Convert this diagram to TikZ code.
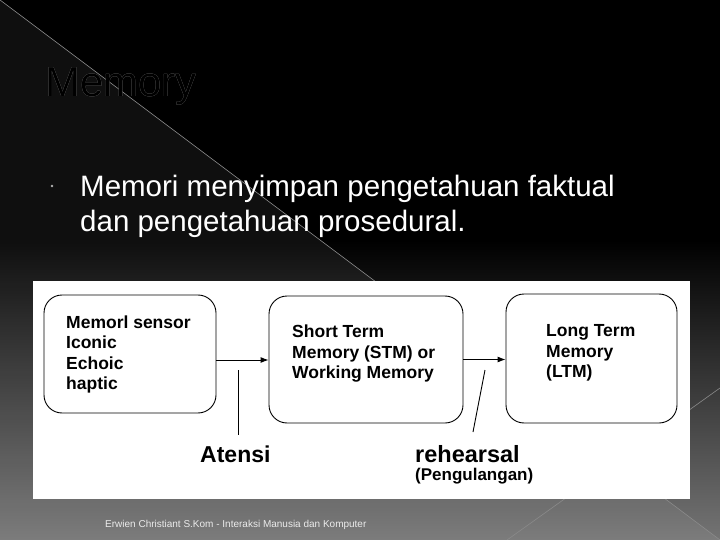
\documentclass[tikz,border=0pt]{standalone}
\usepackage{fontspec}
\setmainfont{Liberation Sans}
\usepackage[outline]{contour}
\definecolor{bgbot}{HTML}{747474}
\definecolor{linegray}{HTML}{8A8A8A}
\definecolor{titlegray}{HTML}{A8A8A8}
\usetikzlibrary{arrows.meta}
\tikzset{
  membox/.style={draw=black, line width=0.9pt, rounded corners=18pt, fill=white},
  btext/.style={font=\fontsize{17.5}{20.5}\selectfont\bfseries, text=black, align=left, inner sep=0pt},
  arr/.style={-{Latex[length=8pt,width=6pt]}, line width=0.9pt, black},
  pointer/.style={line width=0.9pt, black},
}
\begin{document}
\begin{tikzpicture}[x=1pt,y=-1pt]
\useasboundingbox (0,0) rectangle (720,540);
% background
\fill[black] (0,0) rectangle (720,540);
\shade[top color=black, bottom color=bgbot] (0,240) rectangle (720,540);
\fill[white, opacity=0.06] (0,0) -- (720,540) -- (0,540) -- cycle;
\draw[linegray, line width=0.6pt] (0,0) -- (720,540);
\draw[linegray, line width=0.6pt] (720,388) -- (507,540);
% title
\contourlength{0.35pt}
\node[anchor=base west, inner sep=0pt, font=\fontsize{42}{42}\selectfont] (title) at (45,97)
  {\contour{titlegray}{\textcolor{black}{Memory}}};
% bullet
\fill[gray!60!white] (52,186) circle (1.4);
\node[anchor=base west, inner sep=0pt, align=left, text=white,
  font=\fontsize{29.5}{35}\selectfont] (bul) at (80,231)
  {Memori menyimpan pengetahuan faktual\\dan pengetahuan prosedural.};
% panel
\fill[white] (33,281) rectangle (690,499);
% boxes
\node[membox, minimum width=172pt, minimum height=118pt] (sens) at (130,354) {};
\node[membox, minimum width=194pt, minimum height=127pt] (stm) at (366,359.5) {};
\node[membox, minimum width=171pt, minimum height=129pt] (ltm) at (591.5,358.5) {};
\node[btext, anchor=west] (senst) at (66,354.5) {Memorl sensor\\Iconic\\Echoic\\haptic};
\node[btext, anchor=west] (stmt) at (292,354) {Short Term\\Memory (STM) or\\Working Memory};
\node[btext, anchor=west] (ltmt) at (546,353) {Long Term\\Memory\\(LTM)};
% arrows
\draw[arr] ([yshift=-6pt]sens.east) -- ([yshift=-6pt]sens.east -| stm.west);
\draw[arr] (stm.east) -- (stm.east -| ltm.west);
% labels
\node[anchor=base west, inner sep=0pt, font=\fontsize{23}{23}\selectfont\bfseries] (atensi) at (200,462) {Atensi};
\node[anchor=base west, inner sep=0pt, font=\fontsize{23.5}{23.5}\selectfont\bfseries] (reh) at (415,462) {rehearsal};
\node[anchor=base west, inner sep=0pt, font=\fontsize{17}{17}\selectfont\bfseries] (peng) at (415,480) {(Pengulangan)};
\coordinate (a1) at (238,370);
\coordinate (a2) at (238,435);
\coordinate (r1) at (485,370);
\coordinate (r2) at (473,432);
\draw[pointer] (a1) -- (a2);
\draw[pointer] (r1) -- (r2);
% footer
\node[anchor=base west, inner sep=0pt, text=white!92!black, font=\fontsize{10}{10}\selectfont] (foot) at (105,527)
  {Erwien Christiant S.Kom - Interaksi Manusia dan Komputer};
\end{tikzpicture}
\end{document}
